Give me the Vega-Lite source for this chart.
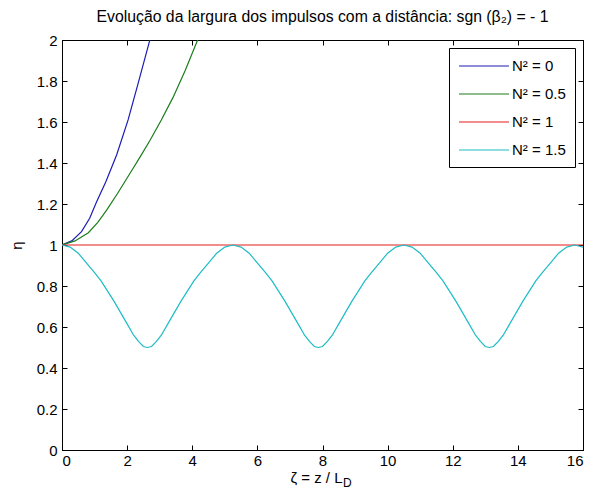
{
  "$schema": "https://vega.github.io/schema/vega-lite/v6.json",
  "autosize": {"type": "none"},
  "padding": {"left": 62, "top": 40, "right": 22, "bottom": 49},
  "width": 521,
  "height": 410,
  "background": "#ffffff",
  "title": {
    "text": "Evolução da largura dos impulsos com a distância: sgn (β₂) = - 1",
    "font": "Liberation Sans, Arial",
    "fontSize": 15.8,
    "fontWeight": "normal",
    "color": "#000000",
    "anchor": "middle",
    "frame": "group",
    "baseline": "alphabetic",
    "offset": -5
  },
  "datasets": {
    "curvas": [
      {"zeta": 0, "eta": 1, "serie": "N² = 0"},
      {"zeta": 0.3, "eta": 1.02, "serie": "N² = 0"},
      {"zeta": 0.6, "eta": 1.065, "serie": "N² = 0"},
      {"zeta": 0.85, "eta": 1.13, "serie": "N² = 0"},
      {"zeta": 1.06, "eta": 1.21, "serie": "N² = 0"},
      {"zeta": 1.35, "eta": 1.31, "serie": "N² = 0"},
      {"zeta": 1.68, "eta": 1.44, "serie": "N² = 0"},
      {"zeta": 2.03, "eta": 1.61, "serie": "N² = 0"},
      {"zeta": 2.34, "eta": 1.79, "serie": "N² = 0"},
      {"zeta": 2.68, "eta": 1.99, "serie": "N² = 0"},
      {"zeta": 2.8, "eta": 2.06, "serie": "N² = 0"},

      {"zeta": 0, "eta": 1, "serie": "N² = 0.5"},
      {"zeta": 0.4, "eta": 1.02, "serie": "N² = 0.5"},
      {"zeta": 0.81, "eta": 1.06, "serie": "N² = 0.5"},
      {"zeta": 1.1, "eta": 1.11, "serie": "N² = 0.5"},
      {"zeta": 1.37, "eta": 1.17, "serie": "N² = 0.5"},
      {"zeta": 1.7, "eta": 1.25, "serie": "N² = 0.5"},
      {"zeta": 2.09, "eta": 1.35, "serie": "N² = 0.5"},
      {"zeta": 2.4, "eta": 1.43, "serie": "N² = 0.5"},
      {"zeta": 2.7, "eta": 1.51, "serie": "N² = 0.5"},
      {"zeta": 3.05, "eta": 1.61, "serie": "N² = 0.5"},
      {"zeta": 3.41, "eta": 1.72, "serie": "N² = 0.5"},
      {"zeta": 3.78, "eta": 1.85, "serie": "N² = 0.5"},
      {"zeta": 4.14, "eta": 1.99, "serie": "N² = 0.5"},
      {"zeta": 4.25, "eta": 2.03, "serie": "N² = 0.5"},

      {"zeta": 0, "eta": 1, "serie": "N² = 1"},
      {"zeta": 16, "eta": 1, "serie": "N² = 1"},

      {"zeta": 0, "eta": 1, "serie": "N² = 1.5"},
      {"zeta": 0.25, "eta": 0.99, "serie": "N² = 1.5"},
      {"zeta": 0.5, "eta": 0.96, "serie": "N² = 1.5"},
      {"zeta": 0.76, "eta": 0.91, "serie": "N² = 1.5"},
      {"zeta": 1.0, "eta": 0.865, "serie": "N² = 1.5"},
      {"zeta": 1.2, "eta": 0.825, "serie": "N² = 1.5"},
      {"zeta": 1.4, "eta": 0.775, "serie": "N² = 1.5"},
      {"zeta": 1.6, "eta": 0.725, "serie": "N² = 1.5"},
      {"zeta": 1.8, "eta": 0.67, "serie": "N² = 1.5"},
      {"zeta": 2.0, "eta": 0.615, "serie": "N² = 1.5"},
      {"zeta": 2.2, "eta": 0.56, "serie": "N² = 1.5"},
      {"zeta": 2.35, "eta": 0.53, "serie": "N² = 1.5"},
      {"zeta": 2.5, "eta": 0.505, "serie": "N² = 1.5"},
      {"zeta": 2.62, "eta": 0.5, "serie": "N² = 1.5"},
      {"zeta": 2.75, "eta": 0.505, "serie": "N² = 1.5"},
      {"zeta": 2.9, "eta": 0.53, "serie": "N² = 1.5"},
      {"zeta": 3.05, "eta": 0.56, "serie": "N² = 1.5"},
      {"zeta": 3.25, "eta": 0.615, "serie": "N² = 1.5"},
      {"zeta": 3.45, "eta": 0.67, "serie": "N² = 1.5"},
      {"zeta": 3.65, "eta": 0.725, "serie": "N² = 1.5"},
      {"zeta": 3.85, "eta": 0.775, "serie": "N² = 1.5"},
      {"zeta": 4.05, "eta": 0.825, "serie": "N² = 1.5"},
      {"zeta": 4.25, "eta": 0.865, "serie": "N² = 1.5"},
      {"zeta": 4.49, "eta": 0.91, "serie": "N² = 1.5"},
      {"zeta": 4.75, "eta": 0.96, "serie": "N² = 1.5"},
      {"zeta": 5.0, "eta": 0.99, "serie": "N² = 1.5"},
      {"zeta": 5.25, "eta": 1.0, "serie": "N² = 1.5"},
      {"zeta": 5.5, "eta": 0.99, "serie": "N² = 1.5"},
      {"zeta": 5.75, "eta": 0.96, "serie": "N² = 1.5"},
      {"zeta": 6.01, "eta": 0.91, "serie": "N² = 1.5"},
      {"zeta": 6.25, "eta": 0.865, "serie": "N² = 1.5"},
      {"zeta": 6.45, "eta": 0.825, "serie": "N² = 1.5"},
      {"zeta": 6.65, "eta": 0.775, "serie": "N² = 1.5"},
      {"zeta": 6.85, "eta": 0.725, "serie": "N² = 1.5"},
      {"zeta": 7.05, "eta": 0.67, "serie": "N² = 1.5"},
      {"zeta": 7.25, "eta": 0.615, "serie": "N² = 1.5"},
      {"zeta": 7.45, "eta": 0.56, "serie": "N² = 1.5"},
      {"zeta": 7.6, "eta": 0.53, "serie": "N² = 1.5"},
      {"zeta": 7.75, "eta": 0.505, "serie": "N² = 1.5"},
      {"zeta": 7.87, "eta": 0.5, "serie": "N² = 1.5"},
      {"zeta": 8.0, "eta": 0.505, "serie": "N² = 1.5"},
      {"zeta": 8.15, "eta": 0.53, "serie": "N² = 1.5"},
      {"zeta": 8.3, "eta": 0.56, "serie": "N² = 1.5"},
      {"zeta": 8.5, "eta": 0.615, "serie": "N² = 1.5"},
      {"zeta": 8.7, "eta": 0.67, "serie": "N² = 1.5"},
      {"zeta": 8.9, "eta": 0.725, "serie": "N² = 1.5"},
      {"zeta": 9.1, "eta": 0.775, "serie": "N² = 1.5"},
      {"zeta": 9.3, "eta": 0.825, "serie": "N² = 1.5"},
      {"zeta": 9.5, "eta": 0.865, "serie": "N² = 1.5"},
      {"zeta": 9.74, "eta": 0.91, "serie": "N² = 1.5"},
      {"zeta": 10.0, "eta": 0.96, "serie": "N² = 1.5"},
      {"zeta": 10.25, "eta": 0.99, "serie": "N² = 1.5"},
      {"zeta": 10.5, "eta": 1.0, "serie": "N² = 1.5"},
      {"zeta": 10.75, "eta": 0.99, "serie": "N² = 1.5"},
      {"zeta": 11.0, "eta": 0.96, "serie": "N² = 1.5"},
      {"zeta": 11.26, "eta": 0.91, "serie": "N² = 1.5"},
      {"zeta": 11.5, "eta": 0.865, "serie": "N² = 1.5"},
      {"zeta": 11.7, "eta": 0.825, "serie": "N² = 1.5"},
      {"zeta": 11.9, "eta": 0.775, "serie": "N² = 1.5"},
      {"zeta": 12.1, "eta": 0.725, "serie": "N² = 1.5"},
      {"zeta": 12.3, "eta": 0.67, "serie": "N² = 1.5"},
      {"zeta": 12.5, "eta": 0.615, "serie": "N² = 1.5"},
      {"zeta": 12.7, "eta": 0.56, "serie": "N² = 1.5"},
      {"zeta": 12.85, "eta": 0.53, "serie": "N² = 1.5"},
      {"zeta": 13.0, "eta": 0.505, "serie": "N² = 1.5"},
      {"zeta": 13.12, "eta": 0.5, "serie": "N² = 1.5"},
      {"zeta": 13.25, "eta": 0.505, "serie": "N² = 1.5"},
      {"zeta": 13.4, "eta": 0.53, "serie": "N² = 1.5"},
      {"zeta": 13.55, "eta": 0.56, "serie": "N² = 1.5"},
      {"zeta": 13.75, "eta": 0.615, "serie": "N² = 1.5"},
      {"zeta": 13.95, "eta": 0.67, "serie": "N² = 1.5"},
      {"zeta": 14.15, "eta": 0.725, "serie": "N² = 1.5"},
      {"zeta": 14.35, "eta": 0.775, "serie": "N² = 1.5"},
      {"zeta": 14.55, "eta": 0.825, "serie": "N² = 1.5"},
      {"zeta": 14.75, "eta": 0.865, "serie": "N² = 1.5"},
      {"zeta": 14.99, "eta": 0.91, "serie": "N² = 1.5"},
      {"zeta": 15.25, "eta": 0.96, "serie": "N² = 1.5"},
      {"zeta": 15.5, "eta": 0.99, "serie": "N² = 1.5"},
      {"zeta": 15.75, "eta": 1.0, "serie": "N² = 1.5"},
      {"zeta": 16.0, "eta": 0.99, "serie": "N² = 1.5"}
    ],
    "indice": [{"texto": "D", "zeta": 8.63, "eta": 0}]
  },
  "layer": [
    {
      "data": {"name": "curvas"},
      "mark": {"type": "line", "clip": true, "strokeWidth": 1.2},
      "encoding": {
        "x": {
          "field": "zeta",
          "type": "quantitative",
          "scale": {"domain": [0, 16], "nice": false, "zero": false},
          "axis": {
            "orient": "bottom",
            "values": [0, 2, 4, 6, 8, 10, 12, 14, 16],
            "format": "d",
            "tickSize": -5,
            "labelPadding": 8,
            "title": "ζ = z / L",
            "titleX": 254,
            "titlePadding": 2
          }
        },
        "y": {
          "field": "eta",
          "type": "quantitative",
          "scale": {"domain": [0, 2], "nice": false, "zero": false},
          "axis": {
            "orient": "left",
            "values": [0, 0.2, 0.4, 0.6, 0.8, 1, 1.2, 1.4, 1.6, 1.8, 2],
            "format": ".1~f",
            "tickSize": -5,
            "labelPadding": 10,
            "title": "η",
            "titlePadding": 12
          }
        },
        "color": {
          "field": "serie",
          "type": "nominal",
          "scale": {
            "domain": ["N² = 0", "N² = 0.5", "N² = 1", "N² = 1.5"],
            "range": ["#1c1cb4", "#1b7d1b", "#e81c1c", "#1cbcc4"]
          },
          "legend": {"title": null}
        }
      }
    },
    {
      "data": {"name": "indice"},
      "mark": {
        "type": "text",
        "align": "left",
        "baseline": "alphabetic",
        "dy": 37,
        "font": "Liberation Sans, Arial",
        "fontSize": 12,
        "color": "#000000"
      },
      "encoding": {
        "x": {
          "field": "zeta",
          "type": "quantitative",
          "axis": {
            "orient": "top",
            "values": [0, 2, 4, 6, 8, 10, 12, 14, 16],
            "labels": false,
            "tickSize": -5,
            "title": null
          }
        },
        "y": {
          "field": "eta",
          "type": "quantitative",
          "axis": {
            "orient": "right",
            "values": [0, 0.2, 0.4, 0.6, 0.8, 1, 1.2, 1.4, 1.6, 1.8, 2],
            "labels": false,
            "tickSize": -5,
            "title": null
          }
        },
        "text": {"field": "texto"}
      }
    }
  ],
  "resolve": {"axis": {"x": "independent", "y": "independent"}},
  "config": {
    "font": "Liberation Sans, Arial",
    "view": {"stroke": "#000000", "strokeWidth": 1},
    "axis": {
      "grid": false,
      "domain": true,
      "domainColor": "#000000",
      "domainWidth": 1,
      "tickColor": "#000000",
      "tickWidth": 1,
      "labelColor": "#000000",
      "labelFont": "Liberation Sans, Arial",
      "labelFontSize": 15,
      "titleColor": "#000000",
      "titleFont": "Liberation Sans, Arial",
      "titleFontSize": 15,
      "titleFontWeight": "normal"
    },
    "legend": {
      "orient": "top-right",
      "offset": 8,
      "strokeColor": "#000000",
      "strokeWidth": 1,
      "fillColor": "#ffffff",
      "padding": 9,
      "symbolType": "M-1,0L5.25,0",
      "symbolSize": 256,
      "symbolStrokeWidth": 1.2,
      "labelOffset": 36,
      "rowPadding": 11,
      "labelFont": "Liberation Sans, Arial",
      "labelFontSize": 15,
      "labelColor": "#000000"
    }
  }
}
